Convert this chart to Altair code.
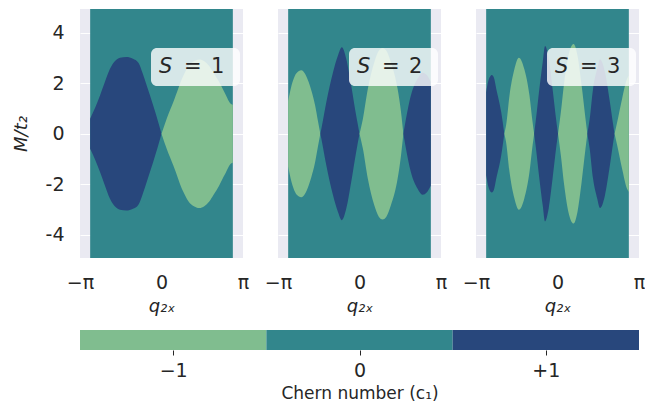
import altair as alt
import numpy as np
import pandas as pd

# ---------------- data ----------------
S_VALUES = [1, 2, 3]
CHERN = [-1, 0, 1]
CHERN_COLORS = ["#80BD8F", "#32868C", "#28477C"]

Q_EXTENT = [-2.75, 2.75]    # q range of the computed grid
M_EXTENT = [-4.93, 4.95]    # M/t2 range of the computed grid

# Each lobe: Chern number, q samples, upper boundary M/t2 (lower one is the mirror image)
s1_lobes = [
    (1,
     [-2.75, -2.55, -2.37, -2.2, -1.99, -1.8, -1.6, -1.35, -1.1, -0.89, -0.72, -0.57, -0.32, -0.15, 0.0],
     [0.6, 1.05, 1.52, 2.0, 2.57, 2.88, 3.02, 3.05, 2.98, 2.82, 2.38, 1.91, 1.12, 0.55, 0.0]),
    (-1,
     [0.0, 0.2, 0.46, 0.84, 1.05, 1.23, 1.46, 1.65, 1.84, 2.02, 2.22, 2.45, 2.68, 2.75],
     [0.0, 0.6, 1.27, 2.3, 2.7, 2.87, 2.95, 2.88, 2.69, 2.4, 2.06, 1.6, 1.18, 1.15]),
]
s2_lobes = [
    (-1,
     [-2.75, -2.62, -2.49, -2.35, -2.24, -2.1, -1.96, -1.85, -1.71, -1.6, -1.51],
     [1.3, 1.91, 2.3, 2.48, 2.52, 2.38, 2.05, 1.7, 1.12, 0.5, 0.0]),
    (1,
     [-1.51, -1.47, -1.28, -1.02, -0.83, -0.68, -0.51, -0.32, -0.13, 0.0],
     [0.0, 0.2, 1.25, 2.44, 3.1, 3.43, 2.97, 1.91, 0.73, 0.0]),
    (-1,
     [0.0, 0.13, 0.32, 0.57, 0.75, 0.89, 1.03, 1.21, 1.47, 1.6, 1.69],
     [0.0, 0.59, 1.78, 2.84, 3.3, 3.4, 3.3, 2.84, 1.78, 0.86, 0.0]),
    (1,
     [1.69, 1.79, 1.98, 2.24, 2.43, 2.6, 2.75],
     [0.0, 0.59, 1.52, 2.18, 2.42, 2.32, 2.05]),
]
s3_lobes = [
    (1,
     [-2.75, -2.65, -2.53, -2.45, -2.36, -2.17, -2.05],
     [1.65, 2.15, 2.33, 2.22, 1.78, 0.86, 0.0]),
    (-1,
     [-2.05, -1.98, -1.85, -1.66, -1.49, -1.28, -1.08, -0.96, -0.9],
     [0.0, 0.35, 1.52, 2.57, 3.02, 2.57, 1.52, 0.46, 0.0]),
    (1,
     [-0.9, -0.83, -0.7, -0.57, -0.48, -0.34, -0.19, -0.04, 0.02],
     [0.0, 0.59, 1.78, 2.84, 3.48, 2.97, 1.78, 0.46, 0.0]),
    (-1,
     [0.02, 0.13, 0.26, 0.42, 0.62, 0.77, 0.93, 1.08, 1.15],
     [0.0, 0.86, 2.05, 3.1, 3.56, 3.1, 1.91, 0.59, 0.0]),
    (1,
     [1.15, 1.24, 1.37, 1.53, 1.64, 1.83, 2.0, 2.15, 2.2],
     [0.0, 0.59, 1.78, 2.57, 2.95, 2.44, 1.39, 0.33, 0.0]),
    (-1,
     [2.2, 2.3, 2.49, 2.68, 2.75],
     [0.0, 0.46, 1.39, 2.18, 2.31]),
]
ALL_LOBES = [s1_lobes, s2_lobes, s3_lobes]

Y_TICKS = [-4, -3, -2, -1, 0, 1, 2, 3, 4]
X_TICKS = [-np.pi, 0.0, np.pi]

# ---------------- styling ----------------
FONT = "DejaVu Sans"
TXT = "#262626"
BG = "#EAEAF2"
PANEL_W, PANEL_H, GAP = 163, 249, 35
color_scale = alt.Scale(domain=CHERN, range=CHERN_COLORS)


def make_panel(idx, S, lobes):
    rows = []
    for k, (c, qs, ms) in enumerate(lobes):
        for q, m in zip(qs, ms):
            rows.append({"lobe": k, "chern": c, "q": q, "m": m, "m_low": -m})
    lobe_df = pd.DataFrame(rows)
    bg_df = pd.DataFrame({"q": [Q_EXTENT[0]], "q2": [Q_EXTENT[1]],
                          "m": [M_EXTENT[0]], "m2": [M_EXTENT[1]], "chern": [0]})
    lab_df = pd.DataFrame({"S": [S], "num": [str(S)]})

    x_axis = alt.Axis(
        values=X_TICKS,
        labelExpr="datum.value < -1 ? '−π' : (datum.value > 1 ? 'π' : '0')",
        labelFlush=False, labelOverlap=False, grid=False, domain=False, ticks=False,
        labelPadding=15, labelFontSize=19, labelFont=FONT, labelColor=TXT,
        title="q₂ₓ", titleFont=FONT, titleFontSize=18, titleFontStyle="italic",
        titleFontWeight="normal", titleColor=TXT, titlePadding=5,
    )
    if idx == 0:
        y_axis = alt.Axis(
            values=Y_TICKS,
            labelExpr="datum.value % 2 == 0 ? '' + datum.value : ''",
            grid=True, gridColor="white", gridWidth=1, domain=False, ticks=False,
            labelPadding=16, labelFontSize=19, labelFont=FONT, labelColor=TXT,
            title="M/t₂", titleFont=FONT, titleFontSize=18, titleFontStyle="italic",
            titleFontWeight="normal", titleColor=TXT, titlePadding=15,
        )
    else:
        y_axis = alt.Axis(values=Y_TICKS, labels=False, title=None, grid=True,
                          gridColor="white", gridWidth=1, domain=False, ticks=False)

    xs = alt.Scale(domain=[-np.pi, np.pi], nice=False, zero=False)
    ys = alt.Scale(domain=M_EXTENT, nice=False, zero=False)

    bg = alt.Chart(bg_df).mark_rect().encode(
        x=alt.X("q:Q", scale=xs, axis=x_axis),
        x2="q2",
        y=alt.Y("m:Q", scale=ys, axis=y_axis),
        y2="m2",
        color=alt.Color("chern:O", scale=color_scale, legend=None),
    )
    lobes_layer = alt.Chart(lobe_df).mark_area(interpolate="monotone").encode(
        x=alt.X("q:Q", scale=xs),
        y=alt.Y("m:Q", scale=ys),
        y2="m_low",
        color=alt.Color("chern:O", scale=color_scale, legend=None),
        detail="lobe:N",
    )
    box = alt.Chart(lab_df).mark_rect(cornerRadius=6, fill="white", opacity=0.8).encode(
        x=alt.value(71), x2=alt.value(160), y=alt.value(39), y2=alt.value(77)
    )
    s_txt = alt.Chart(lab_df).mark_text(
        text="S", font=FONT, fontSize=21, fontStyle="italic", align="left",
        baseline="middle", color=TXT
    ).encode(x=alt.value(79), y=alt.value(58))
    eq_txt = alt.Chart(lab_df).mark_text(
        text="=", font=FONT, fontSize=21, align="left", baseline="middle", color=TXT
    ).encode(x=alt.value(104), y=alt.value(58))
    num_txt = alt.Chart(lab_df).mark_text(
        font=FONT, fontSize=21, align="left", baseline="middle", color=TXT
    ).encode(x=alt.value(131), y=alt.value(58), text="num:N")

    return alt.layer(bg, lobes_layer, box, s_txt, eq_txt, num_txt).properties(
        width=PANEL_W, height=PANEL_H,
        view=alt.ViewBackground(fill=BG, strokeWidth=0),
    )


panels = [make_panel(i, S, lobes) for i, (S, lobes) in enumerate(zip(S_VALUES, ALL_LOBES))]
top = alt.hconcat(*panels, spacing=GAP, bounds="flush")

cb_df = pd.DataFrame({"lo": [c - 0.5 for c in CHERN], "hi": [c + 0.5 for c in CHERN], "chern": CHERN})
colorbar = alt.Chart(cb_df).mark_rect().encode(
    x=alt.X("lo:Q", scale=alt.Scale(domain=[-1.5, 1.5], nice=False, zero=False),
            axis=alt.Axis(values=CHERN,
                          labelExpr="datum.value < 0 ? '−1' : (datum.value > 0 ? '+1' : '0')",
                          ticks=True, tickSize=5, tickColor=TXT, tickWidth=1,
                          domain=False, grid=False, labelPadding=6, labelFontSize=19,
                          labelFont=FONT, labelColor=TXT, labelFlush=False,
                          title="Chern number (c₁)", titleFont=FONT, titleFontSize=17,
                          titleFontWeight="normal", titleColor=TXT, titlePadding=5)),
    x2="hi",
    color=alt.Color("chern:O", scale=color_scale, legend=None),
).properties(width=3 * PANEL_W + 2 * GAP, height=20, view=alt.ViewBackground(strokeWidth=0))

chart = alt.vconcat(top, colorbar, spacing=15).properties(
    padding={"left": 4, "top": 1, "right": 0, "bottom": 0}
)

chart.save("out.html", embed_options={"renderer": "svg", "actions": False})
